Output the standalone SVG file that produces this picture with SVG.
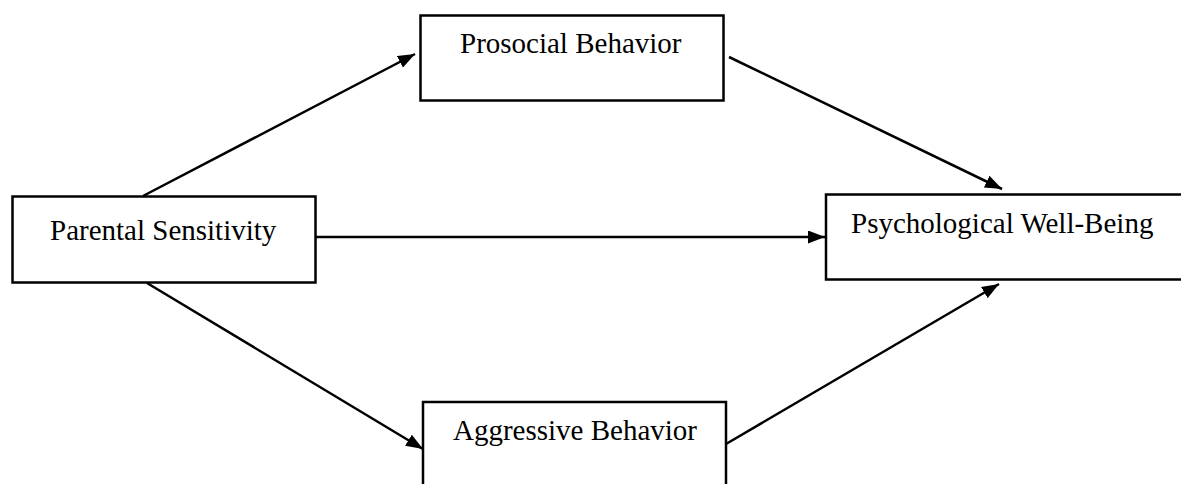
<svg xmlns="http://www.w3.org/2000/svg" width="1181" height="484" viewBox="0 0 1181 484">
<defs>
<marker id="ah" markerWidth="17" markerHeight="13" refX="17" refY="6.5" orient="auto" markerUnits="userSpaceOnUse">
<path d="M0,0 L17,6.5 L0,13 Z" fill="#000"/>
</marker>
<style>
.box{fill:#fff;stroke:#000;stroke-width:2.5}
.lbl{font-family:"Liberation Serif","Times New Roman",serif;font-size:29px;fill:#000}
.conn line{stroke:#000;stroke-width:2.5;marker-end:url(#ah)}
</style>
</defs>
<rect width="1181" height="484" fill="#fff"/>
<g id="connectors" class="conn">
<line x1="143" y1="196" x2="415" y2="54"/>
<line x1="729" y1="57" x2="1002" y2="189"/>
<line x1="316" y1="237" x2="825" y2="237"/>
<line x1="147" y1="283" x2="423" y2="449"/>
<line x1="726" y1="444" x2="999" y2="284"/>
</g>
<g id="parental">
<rect class="box" x="12.5" y="196.5" width="303" height="86"/>
<text class="lbl" x="50" y="240">Parental Sensitivity</text>
</g>
<g id="prosocial">
<rect class="box" x="420.5" y="15.5" width="303" height="85"/>
<text class="lbl" x="460" y="53">Prosocial Behavior</text>
</g>
<g id="wellbeing">
<rect class="box" x="826" y="194.5" width="360" height="85"/>
<text class="lbl" x="851" y="233">Psychological Well-Being</text>
</g>
<g id="aggressive">
<rect class="box" x="423" y="402" width="303" height="90"/>
<text class="lbl" x="453" y="440">Aggressive Behavior</text>
</g>
</svg>
